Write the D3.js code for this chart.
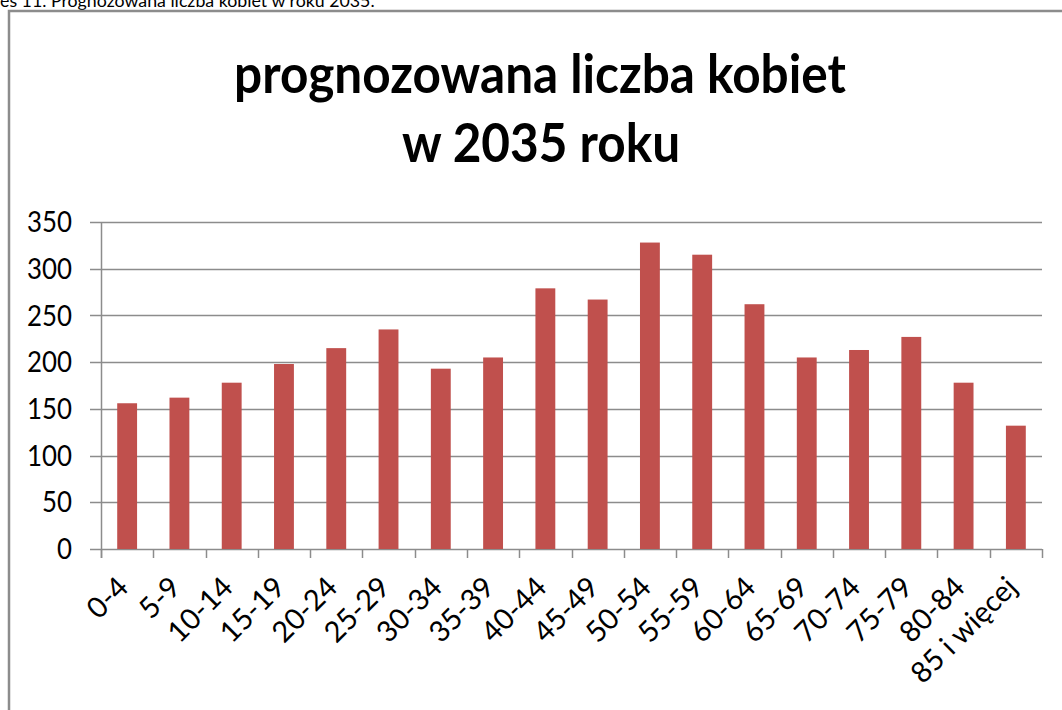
<!DOCTYPE html>
<html>
<head>
<meta charset="utf-8">
<script src="https://cdn.jsdelivr.net/npm/d3@7"></script>
<style>
  html, body { margin: 0; padding: 0; background: #fff; overflow: hidden; }
  svg { display: block; }
</style>
</head>
<body>
<svg id="chart" width="1062" height="710"></svg>
<script>
// dane z wykresu
const categories = ['0-4', '5-9', '10-14', '15-19', '20-24', '25-29', '30-34', '35-39', '40-44',
  '45-49', '50-54', '55-59', '60-64', '65-69', '70-74', '75-79', '80-84', '85 i więcej'];
const values = [156, 162, 178, 198, 215, 235, 193, 205, 279, 267, 328, 315, 262, 205, 213, 227, 178, 132];
const yTicks = [0, 50, 100, 150, 200, 250, 300, 350];
const titleLines = ['prognozowana liczba kobiet', 'w 2035 roku'];
const captionText = 'es 11. Prognozowana liczba kobiet w roku 2035.';

const svg = d3.select('#chart');
const font = 'Lato, "Open Sans", sans-serif';
const gray = '#8c8c8c';

// podpis nad ramka (ucięty u góry)
const cap = svg.append('text')
  .attr('x', 0).attr('y', 7)
  .attr('font-family', font).attr('font-size', 18)
  .attr('fill', '#000')
  .text(captionText);
fitWidth(cap, 375, 0, 7);

// ramka wykresu
svg.append('path')
  .attr('d', 'M9,712 L9,11 L1064,11')
  .attr('fill', 'none')
  .attr('stroke', gray)
  .attr('stroke-width', 2.5);

// tytul
const title = svg.append('g');
const t1 = title.append('text')
  .attr('text-anchor', 'middle')
  .attr('font-family', font).attr('font-weight', 700).attr('font-size', 54)
  .text(titleLines[0]);
const t2 = title.append('text')
  .attr('text-anchor', 'middle')
  .attr('font-family', font).attr('font-weight', 700).attr('font-size', 54)
  .text(titleLines[1]);
const sTitle = 612 / t1.node().getComputedTextLength();
t1.attr('transform', `translate(540,93) scale(${sTitle},1)`);
t2.attr('transform', `translate(541,162) scale(${sTitle},1)`);

// skale
const x = d3.scaleBand()
  .domain(categories)
  .range([101, 1042])
  .paddingInner(0.62)
  .paddingOuter(0.31);

const y = d3.scaleLinear()
  .domain([0, 350])
  .range([549, 222]);

const step = x.step();
const left = x.range()[0];
const right = x.range()[1];

// linie siatki + znaczniki osi Y
svg.append('g')
  .selectAll('line')
  .data(yTicks)
  .enter()
  .append('line')
  .attr('x1', 90)
  .attr('x2', right)
  .attr('y1', d => Math.round(y(d)) + 0.5)
  .attr('y2', d => Math.round(y(d)) + 0.5)
  .attr('stroke', gray)
  .attr('stroke-width', 1.5);

// os Y
svg.append('line')
  .attr('x1', left + 0.5).attr('x2', left + 0.5)
  .attr('y1', y(350)).attr('y2', y(0) + 9)
  .attr('stroke', gray).attr('stroke-width', 1.5);

// znaczniki osi X (na granicach kategorii)
const boundaries = d3.range(categories.length + 1);
svg.append('g')
  .selectAll('line')
  .data(boundaries)
  .enter()
  .append('line')
  .attr('x1', i => Math.round(left + i * step) + 0.5)
  .attr('x2', i => Math.round(left + i * step) + 0.5)
  .attr('y1', y(0))
  .attr('y2', y(0) + 9)
  .attr('stroke', gray)
  .attr('stroke-width', 1.5);

// slupki
svg.append('g')
  .selectAll('rect')
  .data(values)
  .enter()
  .append('rect')
  .attr('x', (d, i) => x(categories[i]))
  .attr('width', x.bandwidth())
  .attr('y', d => y(d))
  .attr('height', d => y(0) - y(d))
  .attr('fill', '#C0504D');

// etykiety osi Y
const yLabels = svg.append('g')
  .selectAll('text')
  .data(yTicks)
  .enter()
  .append('text')
  .attr('text-anchor', 'end')
  .attr('dy', '0.36em')
  .attr('font-family', font).attr('font-size', 28)
  .attr('fill', '#000')
  .text(d => d);
const widest = yLabels.filter(d => d === 350).node().getComputedTextLength();
const sY = 45 / widest;
yLabels.attr('transform', d => `translate(72,${y(d)}) scale(${sY},1)`);

// etykiety osi X, obrocone o -45 stopni
svg.append('g')
  .selectAll('text')
  .data(categories)
  .enter()
  .append('text')
  .attr('text-anchor', 'end')
  .attr('font-family', font).attr('font-size', 29)
  .attr('fill', '#000')
  .attr('transform', d => `translate(${x(d) + x.bandwidth() / 2 + 3},589) rotate(-45)`)
  .text(d => d);

function fitWidth(sel, w, tx, ty) {
  const len = sel.node().getComputedTextLength();
  sel.attr('x', null).attr('y', null)
    .attr('transform', `translate(${tx},${ty}) scale(${w / len},1)`);
}
</script>
</body>
</html>
